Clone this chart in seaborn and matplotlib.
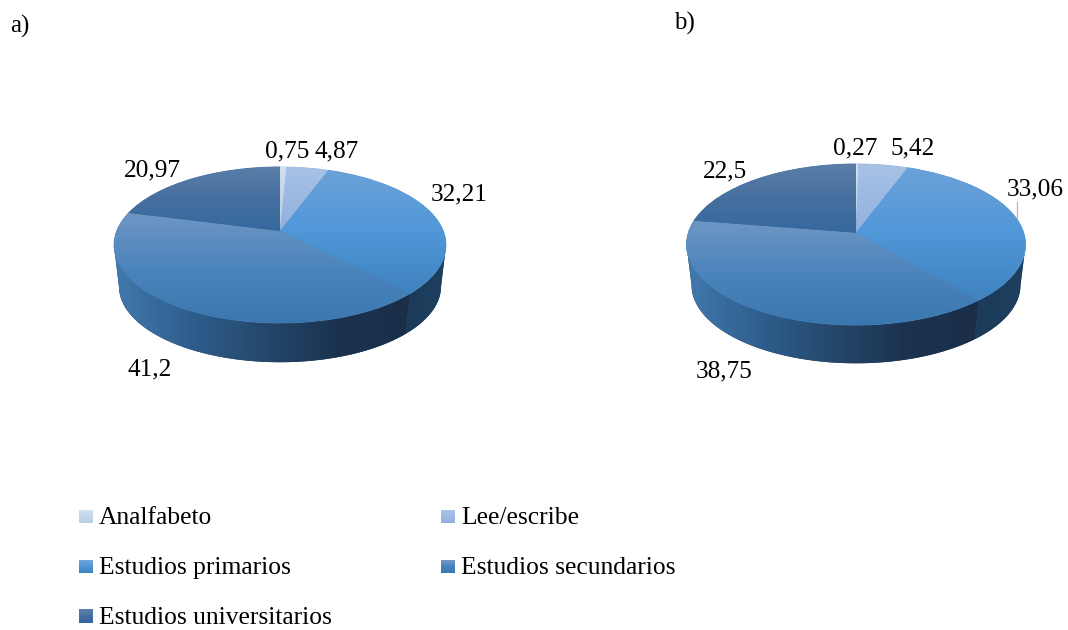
"""
Nivel de estudios: dos tartas con aspecto 3D (a y b)
"""
import numpy as np
import seaborn as sns
import matplotlib
matplotlib.use("Agg")
import matplotlib.pyplot as plt
from matplotlib.legend_handler import HandlerPatch
from matplotlib.patches import Patch, Polygon, Rectangle
from matplotlib.transforms import Transform

categorias = ["Analfabeto", "Lee/escribe", "Estudios primarios",
              "Estudios secundarios", "Estudios universitarios"]
valores_a = [0.75, 4.87, 32.21, 41.2, 20.97]
valores_b = [0.27, 5.42, 33.06, 38.75, 22.5]

# gradiente vertical de cada sector (arriba, medio, abajo)
colores_sup = [
    ["#d2dff0", "#c4d5ea", "#b8cce6"],
    ["#a8c2e6", "#9cb9e2", "#8fb0dc"],
    ["#6ca1d9", "#5097d8", "#3f82be"],
    ["#6f96c3", "#4b84bd", "#3b77af"],
    ["#5a7ea9", "#466f9f", "#35689e"],
]
# gradiente horizontal de la pared lateral
colores_lat = {
    3: ["#4279ad", "#2f5f8e", "#25486c", "#1b3350", "#1a2e48"],
    2: ["#1c3a58", "#1d3d5c", "#1e4060"],
}

# posiciones de texto en pixeles
pos_a = [(287, 151), (337, 151), (459, 194), (150, 369), (152, 170)]
pos_b = [(855, 148), (913, 148), (1035, 189), (724, 371), (725, 171)]


class Perspectiva(Transform):
    """Pasa el disco unidad a la elipse en perspectiva, en pixeles"""
    input_dims = 2
    output_dims = 2

    def __init__(self, cx, cy, a, b, k, escala=1.0, dz=0.0):
        super().__init__()
        self.cx, self.cy, self.a, self.b, self.k = cx, cy, a, b, k
        self.escala, self.dz = escala, dz

    def transform_non_affine(self, xy):
        xy = np.asarray(xy, dtype=float)
        den = 1 + self.k * xy[:, 1]
        x = self.cx + self.escala * self.a * xy[:, 0] / den
        y = self.cy + self.dz - self.escala * self.b * xy[:, 1] / den
        return np.column_stack((x, y))


def degradado(ax, stops, extent, clip_path, clip_trans, zorder, vertical=True):
    colores = np.array(sns.blend_palette(stops, n_colors=256))
    img = colores[:, None, :] if vertical else colores[None, :, :]
    im = ax.imshow(img, extent=extent, aspect="auto", origin="upper",
                   interpolation="bilinear", zorder=zorder)
    im.set_clip_path(clip_path, clip_trans)


def tarta(ax, valores, etiquetas_pos, cx, cy, a, b, k, dz, escala=0.97):
    sup = Perspectiva(cx, cy, a, b, k)
    inf = Perspectiva(cx, cy, a, b, k, escala=escala, dz=dz)

    wedges, _ = ax.pie(valores, startangle=90, counterclock=False,
                       colors=[c[1] for c in colores_sup],
                       wedgeprops={"linewidth": 0})

    for i, w in enumerate(wedges):
        w.set_transform(sup + ax.transData)
        w.set_zorder(4)
        w.set_linewidth(0.6)
        w.set_edgecolor(colores_sup[i][1])
        trans = w.get_transform()
        verts = sup.transform(w.get_path().vertices)
        extent = (verts[:, 0].min(), verts[:, 0].max(),
                  verts[:, 1].max(), verts[:, 1].min())
        degradado(ax, colores_sup[i], extent, w.get_path(), trans, 5)

        # pared lateral, solo los sectores que dan al frente
        if i in colores_lat:
            t = np.radians(np.linspace(w.theta1, w.theta2, 200))
            arco = np.column_stack((np.cos(t), np.sin(t)))
            # hasta la tangente de la elipse
            frente = arco[:, 1] <= -k
            arriba = sup.transform(arco[frente])
            abajo = inf.transform(arco[frente])
            poly = Polygon(np.vstack((arriba, abajo[::-1])), closed=True,
                           facecolor=colores_lat[i][-1], edgecolor="none",
                           zorder=2)
            ax.add_patch(poly)
            ext = (np.vstack((arriba, abajo))[:, 0].min(),
                   np.vstack((arriba, abajo))[:, 0].max(), 400, 150)
            degradado(ax, colores_lat[i], ext, poly.get_path(),
                      poly.get_transform(), 3, vertical=False)

    for v, (x, y) in zip(valores, etiquetas_pos):
        ax.text(x, y, str(v).replace(".", ","), ha="center", va="center",
                fontsize=18.2)


class CuadroDegradado(HandlerPatch):
    """Cuadrito de la leyenda con gradiente vertical"""

    def __init__(self, stops, **kw):
        super().__init__(**kw)
        self.stops = stops

    def create_artists(self, legend, orig_handle, xdescent, ydescent,
                       width, height, fontsize, trans):
        n = 12
        cols = sns.blend_palette(self.stops, n_colors=n)
        h = width * 0.93
        return [Rectangle((-xdescent, 0.7 + h * (n - 1 - j) / n), width,
                          h / n + 0.2, facecolor=cols[j], edgecolor="none",
                          transform=trans) for j in range(n)]


sns.set_theme(style="white")
plt.rcParams["font.family"] = ["Liberation Serif", "DejaVu Serif"]
plt.rcParams["text.color"] = "black"

fig = plt.figure(figsize=(10.68, 6.3), dpi=100, facecolor="white")
ax = fig.add_axes([0, 0, 1, 1])

tarta(ax, valores_a, pos_a, 280, 231, 163.3, 75.5, 0.179, 42)
tarta(ax, valores_b, pos_b, 856, 232.7, 167.7, 78.8, 0.1466, 41)

ax.set_aspect("auto")
ax.set_xlim(0, 1068)
ax.set_ylim(630, 0)
ax.axis("off")

# linea guia de 33,06
ax.plot([1017, 1017], [202, 218], color="#a9b7ca", lw=0.9, zorder=6)

ax.text(20, 26, "a)", fontsize=18, ha="center", va="center")
ax.text(684, 23, "b)", fontsize=18, ha="center", va="center")

handles = [Patch(label=c) for c in categorias]
orden = [0, 2, 4, 1, 3]
leg = fig.legend(
    [handles[i] for i in orden], [categorias[i] for i in orden],
    handler_map={handles[i]: CuadroDegradado(colores_sup[i]) for i in range(5)},
    ncols=2, loc="upper left", bbox_to_anchor=(0.074, 0.1945),
    frameon=False, fontsize=18.4, labelspacing=1.08, handlelength=0.55,
    handleheight=0.55, handletextpad=0.235, columnspacing=4.27, borderpad=0,
    borderaxespad=0, labelcolor="black",
)

fig.savefig("out.png", dpi=100)
